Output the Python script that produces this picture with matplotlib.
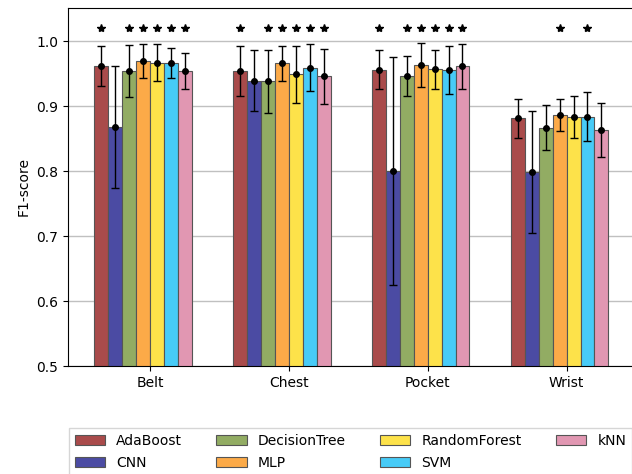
import matplotlib.pyplot as plt
import numpy as np

positions = ['Belt', 'Chest', 'Pocket', 'Wrist']
models = ['AdaBoost', 'CNN', 'DecisionTree', 'MLP', 'RandomForest', 'SVM', 'kNN']
colors = ['#a94b4b', '#4b4ba3', '#92ac63', '#fcaa48', '#fde24a', '#47cbf7', '#e197b2']

# mean F1 per model, one value per position
adaboost = [0.962, 0.954, 0.956, 0.881]
cnn = [0.868, 0.939, 0.800, 0.799]
dtree = [0.954, 0.938, 0.946, 0.867]
mlp = [0.969, 0.966, 0.963, 0.886]
rforest = [0.967, 0.949, 0.957, 0.883]
svm = [0.967, 0.959, 0.956, 0.884]
knn = [0.954, 0.946, 0.961, 0.863]

# standard deviations
adaboost_sd = [0.031, 0.038, 0.030, 0.030]
cnn_sd = [0.094, 0.047, 0.175, 0.094]
dtree_sd = [0.040, 0.049, 0.031, 0.034]
mlp_sd = [0.026, 0.027, 0.034, 0.025]
rforest_sd = [0.029, 0.044, 0.030, 0.032]
svm_sd = [0.023, 0.036, 0.037, 0.038]
knn_sd = [0.028, 0.042, 0.034, 0.042]

# significance stars (1 = star)
stars = [
    [1, 1, 1, 0],  # AdaBoost
    [0, 0, 0, 0],  # CNN
    [1, 1, 1, 0],  # DecisionTree
    [1, 1, 1, 1],  # MLP
    [1, 1, 1, 0],  # RandomForest
    [1, 1, 1, 1],  # SVM
    [1, 1, 1, 0],  # kNN
]
star_level = 1.02

means = [adaboost, cnn, dtree, mlp, rforest, svm, knn]
sds = [adaboost_sd, cnn_sd, dtree_sd, mlp_sd, rforest_sd, svm_sd, knn_sd]

fig = plt.figure(figsize=(6.32, 4.74), dpi=100)
# axes runs past the right edge of the figure, as in the original crop
ax = fig.add_axes([68/632, 108/474, 582/632, 358/474])

x = np.arange(len(positions))
w = 0.1
for i, m in enumerate(models):
    xs = x + (i - 3.5) * w
    ax.bar(xs, means[i], w, color=colors[i], edgecolor='#555555', linewidth=0.8,
           label=m, zorder=2)
    ax.errorbar(xs, means[i], yerr=sds[i], fmt='o', color='black', ms=4,
                capsize=3, elinewidth=1, capthick=1, zorder=3)
    for j in range(len(positions)):
        if stars[i][j]:
            ax.plot(xs[j], star_level, marker='*', color='black', ms=6, ls='none', zorder=3)

ax.set_xlim(-0.59, 3.6)
ax.set_ylim(0.5, 1.051)
ax.set_xticks(x)
ax.set_xticklabels(positions)
ax.set_yticks([0.5, 0.6, 0.7, 0.8, 0.9, 1.0])
ax.yaxis.grid(True, color='#c0c0c0', linewidth=1, zorder=0)
ax.set_axisbelow(True)
ax.spines['right'].set_visible(False)
ax.set_ylabel('F1-score')

fig.legend(loc='upper left', bbox_to_anchor=(69/632, 1 - 428/474), ncol=4,
           fancybox=False, borderaxespad=0, columnspacing=2.45, handlelength=2.2,
           labelspacing=0.6)

fig.savefig('out.png', dpi=100)
